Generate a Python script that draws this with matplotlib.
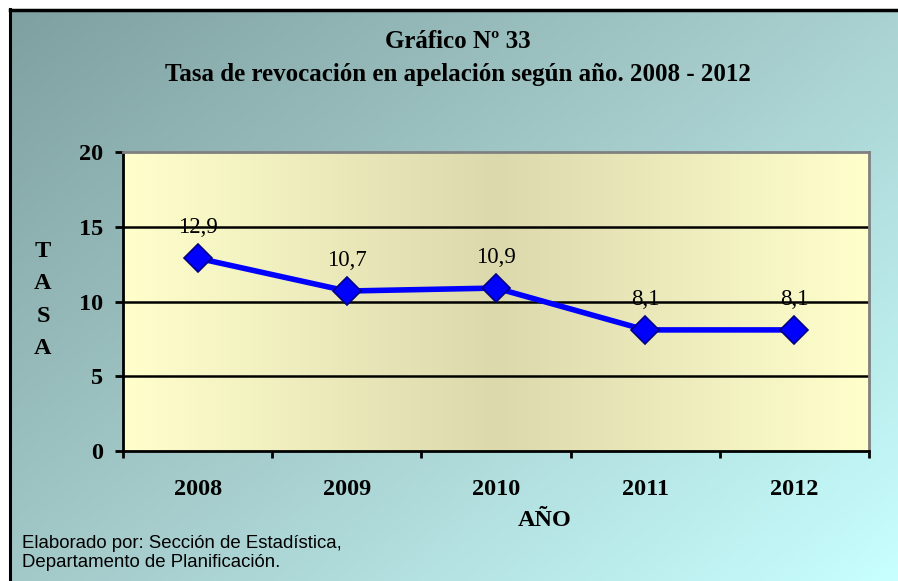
import numpy as np
import matplotlib
matplotlib.use("Agg")
import matplotlib.pyplot as plt
from matplotlib.colors import LinearSegmentedColormap
from matplotlib.lines import Line2D

years = ["2008", "2009", "2010", "2011", "2012"]
tasa = [12.9, 10.7, 10.9, 8.1, 8.1]
value_labels = ["12,9", "10,7", "10,9", "8,1", "8,1"]
y_ticks = [0, 5, 10, 15, 20]

serif = ["Liberation Serif", "DejaVu Serif"]
sans = ["Liberation Sans", "DejaVu Sans"]

W, H = 898, 581
fig = plt.figure(figsize=(W / 100, H / 100), dpi=100)
fig.patch.set_facecolor("white")

# Diagonal background gradient (grey-teal top-left to pale cyan bottom-right)
bg = fig.add_axes([0, 0, 1, 1], zorder=-10)
bg.set_axis_off()
gx, gy = np.meshgrid(np.linspace(0, 1, 400), np.linspace(0, 1, 260))
t = np.clip(0.55 * gx + 0.45 * gy, 0, 1)
bg_cmap = LinearSegmentedColormap.from_list("bg", ["#7e9f9f", "#a6cccc", "#c8ffff"])
bg.imshow(t, cmap=bg_cmap, extent=(0, 1, 0, 1), origin="upper", aspect="auto",
          interpolation="bilinear")
bg.set_xlim(0, 1)
bg.set_ylim(0, 1)
# white margin and black frame along the top and left edges
bg.add_patch(plt.Rectangle((0, 0), 9 / W, 1, color="white", transform=bg.transAxes, zorder=2))
bg.add_patch(plt.Rectangle((0, 1 - 8 / H), 1, 8 / H, color="white", transform=bg.transAxes, zorder=2))
bg.add_line(Line2D([10 / W, 10 / W], [0, 1 - 9 / H], color="black", lw=2.2,
                   transform=bg.transAxes, zorder=3))
bg.add_line(Line2D([10 / W, 1], [1 - 9.5 / H, 1 - 9.5 / H], color="black", lw=2.5,
                   transform=bg.transAxes, zorder=3))

# Plot area
left, right = 123 / W, 869 / W
bottom, top = 1 - 451 / H, 1 - 152 / H
ax = fig.add_axes([left, bottom, right - left, top - bottom])
ax.set_xlim(-0.5, len(years) - 0.5)
ax.set_ylim(0, 20)

# Horizontal gradient in the plot area: pale yellow at the edges, khaki in the middle
px = np.linspace(-1, 1, 500)
pa = np.abs(px)[None, :]
pa_cmap = LinearSegmentedColormap.from_list("pa", ["#dcd9ad", "#ffffcc"])
ax.imshow(pa, cmap=pa_cmap, extent=(-0.5, len(years) - 0.5, 0, 20), aspect="auto",
          origin="lower", interpolation="bilinear", zorder=0)

for yv in y_ticks[1:-1]:
    ax.axhline(yv, color="black", lw=1.8, zorder=1)

x = np.arange(len(years))
ax.plot(x, tasa, color="#0000ff", lw=4, zorder=3, solid_joinstyle="round",
        marker="D", markersize=14, markerfacecolor="#0000ff",
        markeredgecolor="#000080", markeredgewidth=1.2)

for xi, v, lab in zip(x, tasa, value_labels):
    ax.annotate(lab, (xi, v), xytext=(0, 22), textcoords="offset points",
                ha="center", va="center", fontsize=16.5, family=serif, color="black",
                zorder=4)

for side in ("top", "right"):
    ax.spines[side].set_color("#808080")
    ax.spines[side].set_linewidth(2)
for side in ("left", "bottom"):
    ax.spines[side].set_color("black")
    ax.spines[side].set_linewidth(2)

ax.set_yticks(y_ticks)
ax.set_yticklabels([str(v) for v in y_ticks], fontsize=17.5, fontweight="bold", family=serif)
ax.tick_params(axis="y", direction="out", length=6, width=2, pad=8, colors="black")

ax.set_xticks(np.arange(-0.5, len(years), 1.0))
ax.set_xticklabels([])
ax.tick_params(axis="x", which="major", direction="out", length=5, width=2)
ax.set_xticks(x, minor=True)
ax.set_xticklabels(years, minor=True, fontsize=17.5, fontweight="bold", family=serif)
ax.tick_params(axis="x", which="minor", length=0, pad=20)

# Titles and axis captions
fig.text(458 / W, 1 - 42 / H, "Gráfico Nº 33", ha="center", va="center",
         fontsize=18, fontweight="bold", family=serif)
fig.text(458 / W, 1 - 75 / H, "Tasa de revocación en apelación según año. 2008 - 2012",
         ha="center", va="center", fontsize=18, fontweight="bold", family=serif)
fig.text(43 / W, 1 - 300 / H, "T\nA\nS\nA", ha="center", va="center", fontsize=17.5,
         fontweight="bold", family=serif, linespacing=1.72)
fig.text(545 / W, 1 - 520 / H, "AÑO", ha="center", va="center", fontsize=17.5,
         fontweight="bold", family=serif)
fig.text(22 / W, 1 - 553 / H, "Elaborado por: Sección de Estadística,\nDepartamento de Planificación.",
         ha="left", va="center", fontsize=13.4, family=sans, linespacing=1.2)

fig.savefig("out.png", dpi=100)
